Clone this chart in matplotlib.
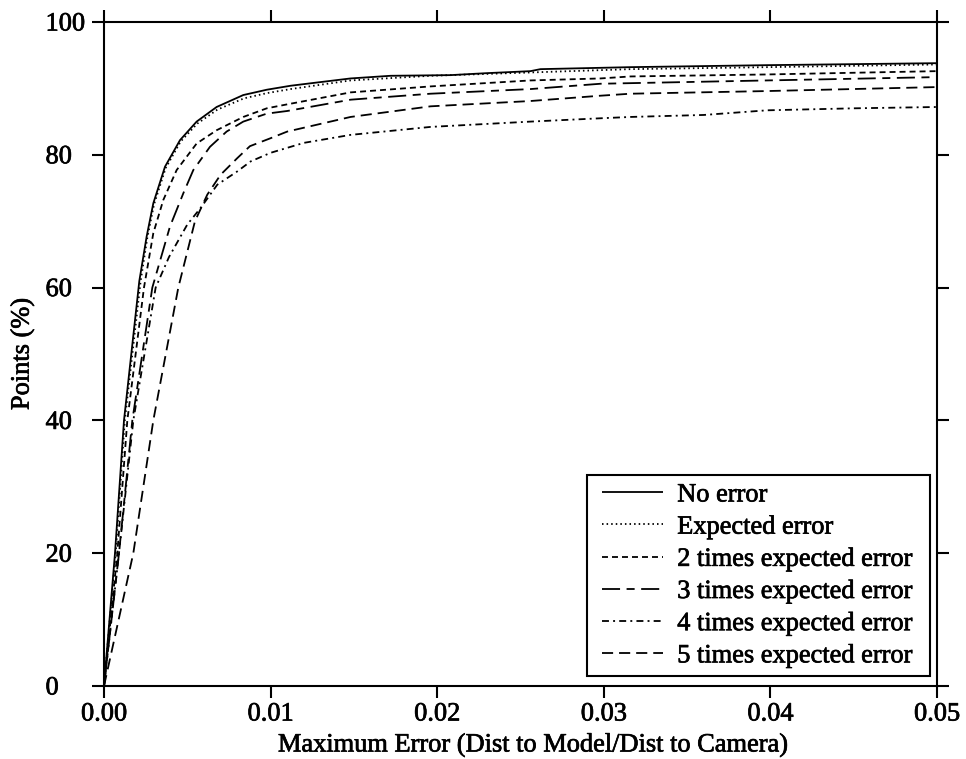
import matplotlib
matplotlib.use("Agg")
import matplotlib.pyplot as plt
import matplotlib.patheffects as pe
from matplotlib.patches import Rectangle

# curve samples (x = max error, y = points %)
x_none = [0, 0.00066, 0.0012, 0.00212, 0.00256, 0.00296, 0.00366, 0.00456, 0.00556, 0.00676,
          0.00836, 0.00977, 0.0112, 0.0125, 0.0148, 0.0172, 0.0208, 0.0230, 0.0256, 0.0262,
          0.0316, 0.0398, 0.05]
y_none = [0, 20, 40, 61, 67.7, 72.7, 78.2, 82.2, 85.0, 87.2,
          89.0, 89.8, 90.4, 90.8, 91.5, 91.9, 92.0, 92.3, 92.6, 92.9,
          93.2, 93.5, 93.8]

x_exp = [0, 0.0007, 0.00125, 0.0022, 0.0026, 0.003, 0.0037, 0.0046, 0.0056, 0.0068,
         0.0084, 0.0098, 0.0112, 0.0148, 0.0196, 0.0256, 0.0316, 0.0398, 0.05]
y_exp = [0, 20, 40, 61, 67.5, 72.5, 78, 82, 84.7, 86.8,
         88.5, 89.3, 89.9, 91.2, 91.9, 92.4, 92.9, 93.2, 93.6]

x_2x = [0, 0.0008, 0.0014, 0.0024, 0.00296, 0.00356, 0.00436, 0.00556, 0.00676, 0.00836,
        0.00977, 0.011, 0.0148, 0.0196, 0.0256, 0.0298, 0.0316, 0.0398, 0.05]
y_2x = [0, 20, 40, 60, 68.2, 73.2, 77.7, 81.7, 83.7, 85.7,
        87.0, 87.6, 89.4, 90.3, 91.2, 91.5, 91.8, 92.1, 92.6]

x_3x = [0, 0.0009, 0.0017, 0.0029, 0.00396, 0.00476, 0.00536, 0.00636, 0.00736, 0.00836,
        0.00977, 0.011, 0.0148, 0.0196, 0.0256, 0.0298, 0.0398, 0.05]
y_3x = [0, 20, 40, 60, 69.2, 74.2, 77.7, 81.2, 83.5, 85.0,
        86.2, 86.6, 88.3, 89.2, 89.9, 90.7, 91.2, 91.7]

x_4x = [0, 0.0009, 0.00176, 0.0031, 0.0039, 0.0050, 0.0058, 0.0068, 0.0080, 0.0088,
        0.0100, 0.0120, 0.0148, 0.0196, 0.0256, 0.0298, 0.0316, 0.0360, 0.0398, 0.0450, 0.05]
y_4x = [0, 20, 40, 60, 64.6, 69.5, 72, 75.5, 77.5, 79.0,
        80.3, 81.8, 83.0, 84.2, 85.0, 85.5, 85.7, 86.0, 86.7, 87.0, 87.2]

x_5x = [0, 0.00176, 0.00296, 0.00446, 0.00506, 0.00546, 0.0062, 0.0070, 0.0080, 0.00876,
        0.0100, 0.0110, 0.0148, 0.0196, 0.0256, 0.0298, 0.0316, 0.0398, 0.05]
y_5x = [0, 20, 40, 60, 66, 70, 74, 77, 79.5, 81.3,
        82.5, 83.5, 85.7, 87.3, 88.1, 88.9, 89.2, 89.6, 90.2]

labels = ["No error", "Expected error", "2 times expected error",
          "3 times expected error", "4 times expected error", "5 times expected error"]
xticks = [0.0, 0.01, 0.02, 0.03, 0.04, 0.05]
yticks = [0, 20, 40, 60, 80, 100]

plt.rcParams['font.family'] = ['Liberation Serif', 'DejaVu Serif']
plt.rcParams['lines.scale_dashes'] = False
fs = 19
heavy = [pe.withStroke(linewidth=0.5, foreground='black')]

fig = plt.figure(figsize=(9.66, 7.59), dpi=100)
ax = fig.add_axes([104 / 966, 1 - 686 / 759, 833 / 966, 664 / 759])

styles = [
    (0, ()),
    (0, (1.1, 2.2)),
    (0, (4.3, 2.9)),
    (0, (13, 4.7, 5.8, 4.7)),
    (0, (5, 3, 1.4, 3)),
    (0, (8, 4.3)),
]
series = [(x_none, y_none), (x_exp, y_exp), (x_2x, y_2x),
          (x_3x, y_3x), (x_4x, y_4x), (x_5x, y_5x)]
for (xs, ys), ls, lab in zip(series, styles, labels):
    ax.plot(xs, ys, color='black', lw=1.3, linestyle=ls, label=lab, clip_on=False)

ax.set_xlim(0, 0.05)
ax.set_ylim(0, 100)
ax.set_xticks(xticks)
ax.set_xticklabels(["%.2f" % t for t in xticks])
ax.set_yticks(yticks)
ax.set_yticklabels([str(t) for t in yticks])

for s in ax.spines.values():
    s.set_linewidth(1.5)
ax.tick_params(direction='out', length=8.6, width=1.5, labelsize=fs,
               top=True, right=True)
ax.tick_params(axis='x', pad=4)
ax.tick_params(axis='y', pad=33.5)
for t in ax.get_yticklabels():
    t.set_horizontalalignment('left')
for t in ax.get_xticklabels() + ax.get_yticklabels():
    t.set_path_effects(heavy)

ax.set_xlabel("Maximum Error (Dist to Model/Dist to Camera)", fontsize=fs,
              path_effects=heavy)
ax.xaxis.set_label_coords(0.5 + 13 / 833, -0.072)
ax.set_ylabel("Points (%)", fontsize=fs, path_effects=heavy)
ax.yaxis.set_label_coords(-70 / 833, 0.5)

# legend without its own frame; the box is drawn separately so its
# horizontal padding can be wider than the vertical one
leg = ax.legend(loc='upper left', fontsize=fs, frameon=False,
                handlelength=2.3, handletextpad=0.55,
                borderpad=0, labelspacing=0.33, borderaxespad=0,
                bbox_to_anchor=((602 - 104) / 833, (686 - 483) / 664))
for t in leg.get_texts():
    t.set_path_effects(heavy)
ax.add_patch(Rectangle(((587 - 104) / 833, (686 - 676) / 664), 343 / 833, 201 / 664,
                       transform=ax.transAxes, fill=False, edgecolor='black',
                       lw=1.5, zorder=6))

fig.savefig("out.png", dpi=100)
